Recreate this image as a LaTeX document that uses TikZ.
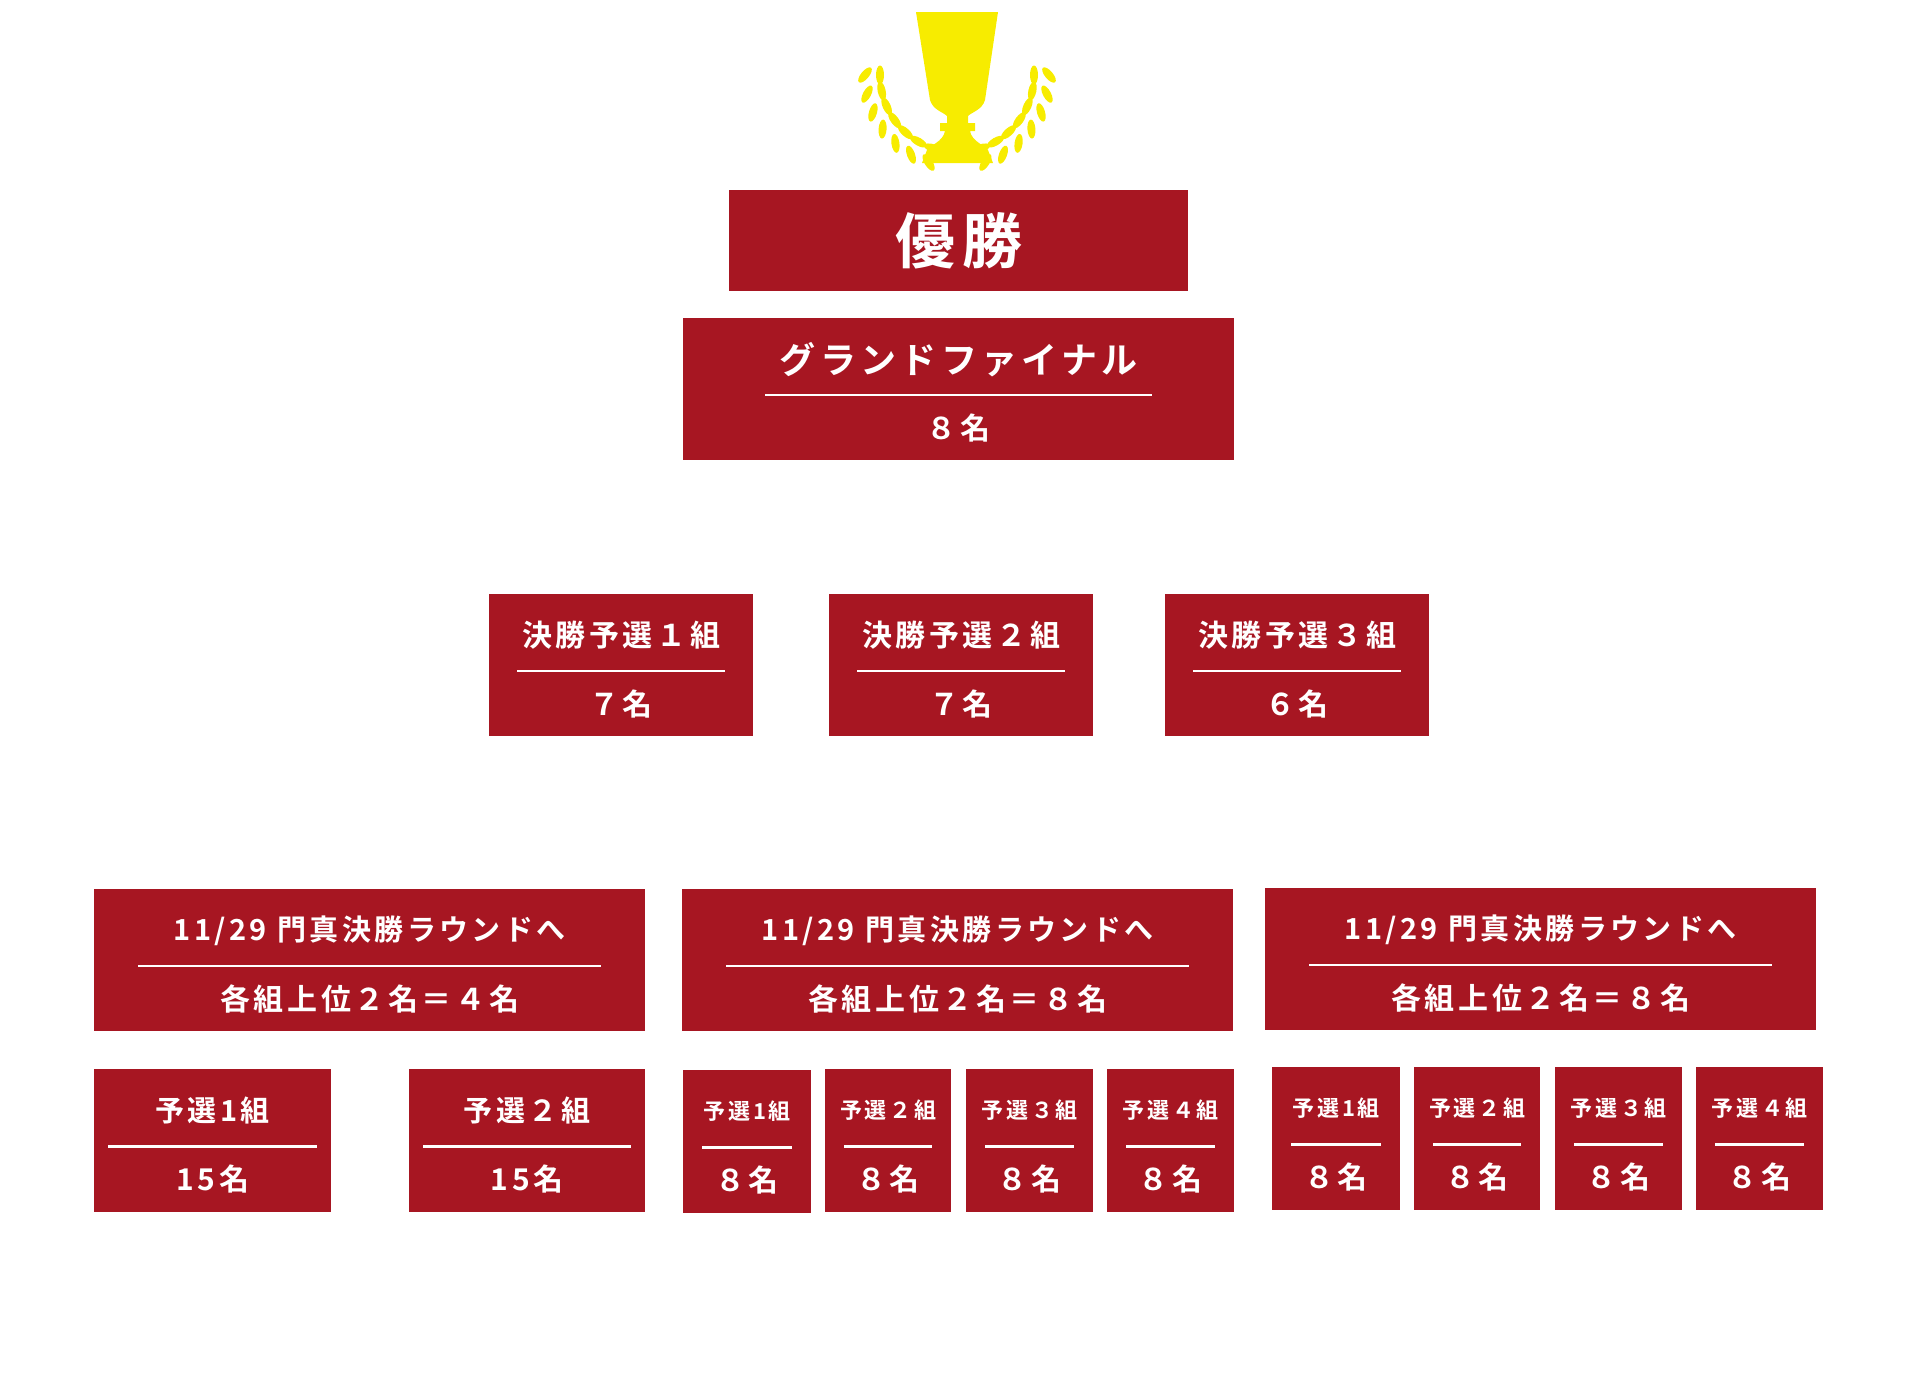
\documentclass[tikz,border=0pt]{standalone}
\usepackage{fontspec}
\setmainfont{Noto Sans CJK JP}[BoldFont={* Bold}, LetterSpace=12]
\usetikzlibrary{calc, shapes.geometric}
\definecolor{cupred}{HTML}{A71622}
\definecolor{cupgold}{HTML}{F7EC00}

\begin{document}
\begin{tikzpicture}[x=1pt, y=-1pt,
    box/.style={fill=cupred, inner sep=0pt, anchor=north west},
    txt/.style={text=white, font=\bfseries},
    sep/.style={white, line width=2.2pt},
    leaf/.style={fill=cupgold, ellipse, inner sep=0pt, minimum width=19pt, minimum height=8pt}
]
    \useasboundingbox (0,0) rectangle (1920,1374);

    % trophy
    \fill[cupgold] (916,12) -- (998,12) -- (985,100) .. controls (982,110) and (972,112) .. (968,116)
        -- (968,123) -- (975,123) -- (975,131) -- (970,131) .. controls (972,142) and (985,145) .. (988,150)
        -- (993,163) -- (922,163) -- (927,150) .. controls (930,145) and (943,142) .. (945,131)
        -- (940,131) -- (940,123) -- (947,123) -- (947,116) .. controls (943,112) and (933,110) .. (930,100) -- cycle;
    \foreach \a in {108, 120, ..., 180} {
        \node[leaf, rotate=-\a+90] at ($(957,75)+(\a:77)$) {};
        \node[leaf, rotate=-\a+50] at ($(957,75)+(\a:92)$) {};
        \node[leaf, rotate=\a-90] at ($(957,75)+(180-\a:77)$) {};
        \node[leaf, rotate=\a-50] at ($(957,75)+(180-\a:92)$) {};
    }

    % champion
    \node[box, minimum width=459pt, minimum height=101pt] (win) at (729,190) {};
    \node[txt, font=\bfseries\fontsize{60}{60}\selectfont] at (win.center) {優勝};

    % two line boxes: name/x/y/width/height/inset/size/top/bottom
    \foreach \n/\x/\y/\w/\h/\i/\s/\t/\b in {
        gf/683/318/551/142/82/36/グランドファイナル/８名,
        q1/489/594/264/142/28/30/決勝予選１組/７名,
        q2/829/594/264/142/28/30/決勝予選２組/７名,
        q3/1165/594/264/142/28/30/決勝予選３組/６名,
        r1/94/889/551/142/44/29/{11/29 門真決勝ラウンドへ}/各組上位２名＝４名,
        r2/682/889/551/142/44/29/{11/29 門真決勝ラウンドへ}/各組上位２名＝８名,
        r3/1265/888/551/142/44/29/{11/29 門真決勝ラウンドへ}/各組上位２名＝８名,
        a1/94/1069/237/143/14/29/予選1組/15名,
        a2/409/1069/236/143/14/29/予選２組/15名,
        b1/683/1070/128/143/19/22/予選1組/８名,
        b2/825/1069/126/143/19/22/予選２組/８名,
        b3/966/1069/127/143/19/22/予選３組/８名,
        b4/1107/1069/127/143/19/22/予選４組/８名,
        c1/1272/1067/128/143/19/22/予選1組/８名,
        c2/1414/1067/126/143/19/22/予選２組/８名,
        c3/1555/1067/127/143/19/22/予選３組/８名,
        c4/1696/1067/127/143/19/22/予選４組/８名} {
        \node[box, minimum width=\w pt, minimum height=\h pt] (\n) at (\x,\y) {};
        \node[txt, font=\bfseries\fontsize{\s}{\s}\selectfont] (\n t) at ($(\n.north)!.29!(\n.south)$) {\t};
        \node[txt, font=\bfseries\fontsize{30}{30}\selectfont] (\n b) at ($(\n.north)!.77!(\n.south)$) {\b};
        \draw[sep] ($(\n.north west)!.54!(\n.south west)+(\i,0)$) -- ($(\n.north east)!.54!(\n.south east)-(\i,0)$);
    }
\end{tikzpicture}
\end{document}
